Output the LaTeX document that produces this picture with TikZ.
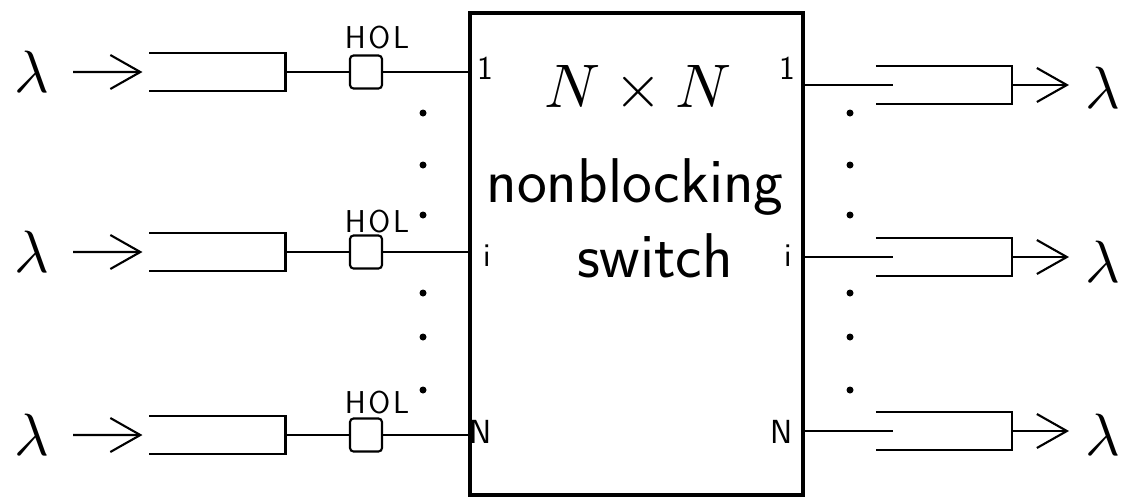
\documentclass[tikz,border=0pt]{standalone}
\usepackage{fontspec}
\usepackage{tikz}
\usetikzlibrary{arrows.meta,positioning}
\newcommand{\swfont}{\fontsize{36}{40}\selectfont}
\newcommand{\portfont}{\sffamily\fontsize{19}{21}\selectfont}
\newcommand{\holfont}{\sffamily\fontsize{18}{20}\selectfont}

\begin{document}
\begin{tikzpicture}[
  x=0.02cm,y=-0.02cm,
  line width=1.2pt,
  qbox/.style={minimum width=2.68cm,minimum height=0.72cm,inner sep=0pt},
  holbox/.style={draw,rounded corners=2pt,minimum width=0.64cm,minimum height=0.66cm,inner sep=0pt},
  swbox/.style={draw,line width=2pt,minimum width=6.66cm,minimum height=9.64cm,inner sep=0pt},
  lam/.style={scale=3.4,inner sep=0pt},
  port/.style={font=\portfont,inner sep=0pt},
  arr/.style={-{Straight Barb[length=0.6cm,width=0.68cm]}},
]
\useasboundingbox (0,0) rectangle (1128,498);

\node[swbox] (sw) at (636.5,254) {};
\node[scale=3.5,inner sep=0pt,anchor=base] (nxn) at (638,107) {$N\times N$};
\node[font=\sffamily\swfont,anchor=base] (nb) at (635,202) {nonblocking};
\node[font=\sffamily\swfont,anchor=base] (swt) at (655,277) {switch};

% input queues
\foreach \r/\y/\ly in {1/72/38, i/252/222, N/435/403} {
  \node[lam] (lin\r) at (32,\y) {$\lambda$};
  \node[qbox] (qin\r) at (217.5,\y) {};
  \node[holbox] (hol\r) at (366,\y) {};
  \node[font=\holfont] (hl\r) at (377,\ly) {H\kern1.5pt O\kern1.5pt L};
  \draw[arr,shorten <=0.4cm,shorten >=0.14cm] (lin\r) -- (qin\r.west);
  \draw (qin\r.north west) -- (qin\r.north east) -- (qin\r.south east) -- (qin\r.south west);
  \draw (qin\r.east) -- (hol\r.west);
  \draw (hol\r.east) -- (hol\r -| sw.west);
}

% output queues
\foreach \r/\y/\ly in {1/85/88, i/257/262, N/431/435} {
  \node[qbox] (qout\r) at (944,\y) {};
  \node[lam] (lout\r) at (1103,\ly) {$\lambda$};
  \coordinate (end\r) at (893,\y);
  \draw (qout\r.north west) -- (qout\r.north east) -- (qout\r.south east) -- (qout\r.south west);
  \draw (sw.east |- qout\r) -- (end\r);
  \draw[arr,shorten >=0.26cm] (qout\r.east) -- (qout\r.east -| lout\r.west);
}

\foreach \d in {113,165,215,293,337,390} {
  \fill (423,\d) circle (3.5);
  \fill (850,\d) circle (3.5);
}

\node[port] (pl1) at (485,68) {1};
\node[port] (pli) at (487,256) {i};
\node[port] (plN) at (481,432) {N};
\node[port] (pr1) at (787,68) {1};
\node[port] (pri) at (788,256) {i};
\node[port] (prN) at (782,432) {N};

\end{tikzpicture}
\end{document}
